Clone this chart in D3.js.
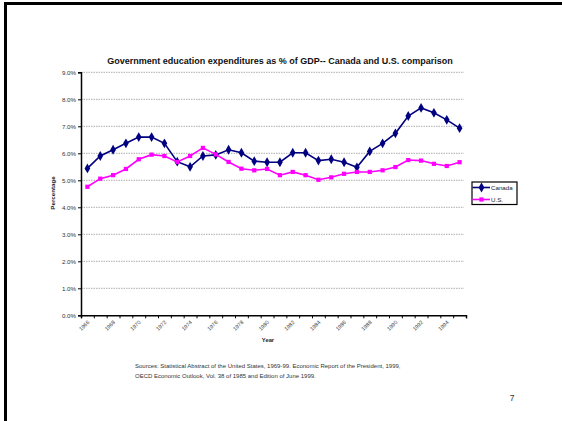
<!DOCTYPE html>
<html>
<head>
<meta charset="utf-8">
<script src="https://cdn.jsdelivr.net/npm/d3@7"></script>
<style>
  body { margin: 0; background: #fff; }
  svg { display: block; font-family: "Liberation Sans", Arial, sans-serif; }
</style>
</head>
<body>
<svg id="chart" width="562" height="421"></svg>
<script>
// data
const years = d3.range(1966, 1996);
const canada = [5.44, 5.90, 6.13, 6.37, 6.60, 6.60, 6.37, 5.69, 5.50, 5.90,
                5.94, 6.13, 6.02, 5.71, 5.67, 5.67, 6.02, 6.02, 5.73, 5.78,
                5.67, 5.48, 6.07, 6.37, 6.74, 7.38, 7.68, 7.50, 7.24, 6.93];
const us = [4.76, 5.06, 5.19, 5.42, 5.78, 5.95, 5.90, 5.68, 5.90, 6.20,
            5.96, 5.68, 5.43, 5.37, 5.42, 5.19, 5.31, 5.19, 5.02, 5.11,
            5.24, 5.31, 5.31, 5.37, 5.49, 5.75, 5.73, 5.61, 5.53, 5.67];
const yTicks = [0, 1, 2, 3, 4, 5, 6, 7, 8, 9];
const series = [
    {name: "Canada", values: canada, color: "#000080", shape: d3.symbolDiamond},
    {name: "U.S.", values: us, color: "#ff00ff", shape: d3.symbolSquare}
];

const svg = d3.select("#chart");
const plotLeft = 81, plotRight = 466, plotTop = 72.3, plotBottom = 315.3;

// slide frame (only top and left edge show)
svg.append("path")
    .attr("d", "M5.5,421 V3.5 H562")
    .attr("fill", "none")
    .attr("stroke", "#000")
    .attr("stroke-width", 3);

const x = d3.scaleBand().domain(years).range([plotLeft, plotRight]);
const xEdge = d3.scaleLinear().domain([0, years.length]).range([plotLeft, plotRight]);
const y = d3.scaleLinear().domain([0, 9]).range([plotBottom, plotTop]);

// gridlines
svg.append("g")
    .selectAll("line")
    .data(yTicks.slice(1))
    .enter()
    .append("line")
    .attr("x1", plotLeft).attr("x2", plotRight - 2)
    .attr("y1", d => y(d)).attr("y2", d => y(d))
    .attr("stroke", "#999")
    .attr("stroke-width", 0.8)
    .attr("stroke-dasharray", "1.5,1");

// y axis
const axisL = d3.axisLeft(y).tickValues(yTicks).tickSize(3)
    .tickFormat(d => d.toFixed(1) + "%");
const gy = svg.append("g")
    .attr("transform", "translate(" + plotLeft + ",0)")
    .call(axisL);
gy.select(".domain").attr("stroke-width", 1.5);
gy.selectAll("text").attr("font-size", 6.2).attr("fill", "#333")
    .attr("font-family", "Liberation Sans, Arial").attr("x", -5);

// x axis: ticks at category edges, labels every other year
const axisB = d3.axisBottom(xEdge).tickValues(d3.range(0, years.length + 1))
    .tickSize(3).tickFormat("");
const gx = svg.append("g")
    .attr("transform", "translate(0," + plotBottom + ")")
    .call(axisB);
gx.select(".domain").attr("stroke-width", 1.5);

svg.append("g")
    .selectAll("text")
    .data(years.filter((d, i) => i % 2 === 0))
    .enter()
    .append("text")
    .attr("transform", d => "translate(" + (x(d) + x.bandwidth() / 2 + 1) + "," + (plotBottom + 6) + ") rotate(-45)")
    .attr("text-anchor", "end")
    .attr("dy", "0.35em")
    .attr("font-size", 5.4)
    .attr("fill", "#333")
    .text(d => d);

// axis titles
svg.append("text")
    .attr("x", 268).attr("y", 342)
    .attr("text-anchor", "middle")
    .attr("font-size", 5.8)
    .attr("font-weight", "bold")
    .attr("fill", "#222")
    .text("Year");

svg.append("text")
    .attr("transform", "translate(55,193) rotate(-90)")
    .attr("text-anchor", "middle")
    .attr("font-size", 6.2)
    .attr("font-weight", "bold")
    .attr("fill", "#222")
    .text("Percentage");

svg.append("text")
    .attr("x", 280).attr("y", 64)
    .attr("text-anchor", "middle")
    .attr("font-size", 9)
    .attr("font-weight", "bold")
    .attr("fill", "#111")
    .text("Government education expenditures as % of GDP-- Canada and U.S. comparison");

// series
const line = d3.line()
    .x((d, i) => x(years[i]) + x.bandwidth() / 2)
    .y(d => y(d));

series.forEach(s => {
    svg.append("path")
        .datum(s.values)
        .attr("d", line)
        .attr("fill", "none")
        .attr("stroke", s.color)
        .attr("stroke-width", 1.6);
    svg.append("g")
        .selectAll("path")
        .data(s.values)
        .enter()
        .append("path")
        .attr("transform", (d, i) => "translate(" + (x(years[i]) + x.bandwidth() / 2) + "," + y(d) + ")")
        .attr("d", d3.symbol().type(s.shape).size(s.shape === d3.symbolSquare ? 18 : 28))
        .attr("fill", s.color);
});

// legend
const lg = svg.append("g").attr("transform", "translate(472,182)");
lg.append("rect")
    .attr("width", 45).attr("height", 22.5)
    .attr("fill", "#fff")
    .attr("stroke", "#000")
    .attr("stroke-width", 1.2);
series.forEach((s, i) => {
    const ly = 5.5 + i * 12;
    lg.append("line")
        .attr("x1", 0.5).attr("x2", 18)
        .attr("y1", ly).attr("y2", ly)
        .attr("stroke", s.color)
        .attr("stroke-width", 1.6);
    lg.append("path")
        .attr("transform", "translate(9.5," + ly + ")")
        .attr("d", d3.symbol().type(s.shape).size(s.shape === d3.symbolSquare ? 18 : 28))
        .attr("fill", s.color);
    lg.append("text")
        .attr("x", 19).attr("y", ly)
        .attr("dy", "0.35em")
        .attr("font-size", 6.2)
        .attr("fill", "#222")
        .text(s.name);
});

// sources note and slide number
const notes = [
    "Sources:  Statistical Abstract of the United States, 1969-99.  Economic Report of the President, 1999,",
    "OECD Economic Outlook, Vol. 38 of 1985 and Edition of June 1999."
];
svg.append("g")
    .selectAll("text")
    .data(notes)
    .enter()
    .append("text")
    .attr("x", 135)
    .attr("y", (d, i) => 368 + i * 9.5)
    .attr("font-size", 6)
    .attr("fill", "#333")
    .text(d => d);

svg.append("text")
    .attr("x", 512).attr("y", 401)
    .attr("text-anchor", "middle")
    .attr("font-size", 8.5)
    .attr("fill", "#333")
    .text("7");
</script>
</body>
</html>
